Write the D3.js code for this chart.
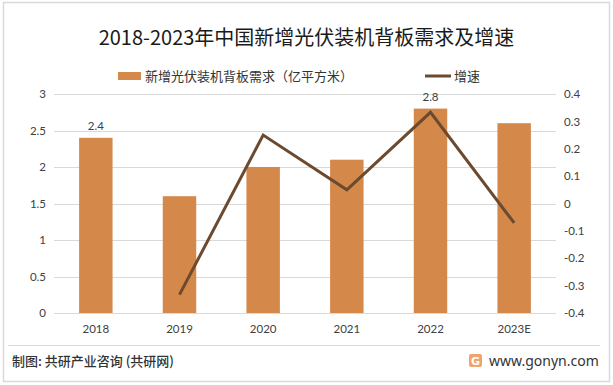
<!DOCTYPE html>
<html>
<head>
<meta charset="UTF-8">
<title>背板需求及增速</title>
<style>
  body { margin: 0; background: #fff; }
  svg { display: block; background: #fff; }
  .tick text { font-family: Lato, "Noto Sans", sans-serif; font-size: 11.5px; fill: #404040; }
</style>
</head>
<body>
<script src="https://d3js.org/d3.v7.min.js"></script>
<script>
// data
var years = ["2018", "2019", "2020", "2021", "2022", "2023E"];
var demand = [2.4, 1.6, 2.0, 2.1, 2.8, 2.6];        // 亿平方米
var growth = [null, -0.333, 0.25, 0.05, 0.333, -0.071];
var leftTicks = [0, 0.5, 1, 1.5, 2, 2.5, 3];
var rightTicks = [-0.4, -0.3, -0.2, -0.1, 0, 0.1, 0.2, 0.3, 0.4];
var labelled = ["2018", "2022"];   // bars that carry a value label

var W = 613, H = 385;
var plot = {left: 54, right: 556, top: 94, bottom: 313};

var svg = d3.select("body").append("svg")
    .attr("width", W).attr("height", H);

// outer frame
svg.append("rect")
    .attr("x", 3.5).attr("y", 2.5)
    .attr("width", 606).attr("height", 379)
    .attr("fill", "none").attr("stroke", "#d9d9d9").attr("stroke-width", 1.5);

// title
svg.append("text")
    .attr("x", 306.5).attr("y", 45)
    .attr("text-anchor", "middle")
    .attr("font-family", "'Noto Sans CJK SC', sans-serif")
    .attr("font-size", 20)
    .attr("fill", "#1a1a1a")
    .text("2018-2023年中国新增光伏装机背板需求及增速");

// legend
var lg = svg.append("g").attr("font-family", "'Noto Sans CJK SC', sans-serif")
    .attr("font-size", 13).attr("fill", "#333");
lg.append("rect").attr("x", 118).attr("y", 72).attr("width", 23).attr("height", 8).attr("fill", "#d4894b");
lg.append("text").attr("x", 145).attr("y", 81).text("新增光伏装机背板需求（亿平方米）");
lg.append("line").attr("x1", 425).attr("x2", 451).attr("y1", 76).attr("y2", 76)
    .attr("stroke", "#6b4a2f").attr("stroke-width", 3);
lg.append("text").attr("x", 454).attr("y", 81).text("增速");

// scales
var x = d3.scaleBand().domain(years).range([plot.left, plot.right]).paddingInner(0.6).paddingOuter(0.3);
var y = d3.scaleLinear().domain([0, 3]).range([plot.bottom, plot.top]);
var y2 = d3.scaleLinear().domain([-0.4, 0.4]).range([plot.bottom, plot.top]);

// gridlines
svg.append("g").selectAll("line").data(leftTicks).join("line")
    .attr("x1", plot.left).attr("x2", plot.right)
    .attr("y1", function(d) { return Math.round(y(d)) + 0.5; })
    .attr("y2", function(d) { return Math.round(y(d)) + 0.5; })
    .attr("stroke", "#d9d9d9").attr("stroke-width", 1);

// axes
var yAxis = d3.axisLeft(y).tickValues(leftTicks).tickSize(0).tickPadding(8)
    .tickFormat(function(d) { return String(d); });
svg.append("g").attr("transform", "translate(" + plot.left + ",0)").call(yAxis)
    .call(function(g) { g.select(".domain").remove(); });

var y2Axis = d3.axisRight(y2).tickValues(rightTicks).tickSize(0).tickPadding(8)
    .tickFormat(function(d) { return String(+d.toFixed(1)); });
svg.append("g").attr("transform", "translate(" + plot.right + ",0)").call(y2Axis)
    .call(function(g) { g.select(".domain").remove(); });

var xAxis = d3.axisBottom(x).tickSize(0).tickPadding(12);
svg.append("g").attr("transform", "translate(0," + plot.bottom + ")").call(xAxis)
    .call(function(g) { g.select(".domain").remove(); });

// bars
svg.append("g").selectAll("rect").data(years).join("rect")
    .attr("x", function(d) { return x(d); })
    .attr("width", x.bandwidth())
    .attr("y", function(d, i) { return y(demand[i]); })
    .attr("height", function(d, i) { return plot.bottom - y(demand[i]); })
    .attr("fill", "#d4894b");

// value labels
svg.append("g").selectAll("text").data(years.filter(function(d) { return labelled.indexOf(d) >= 0; })).join("text")
    .attr("x", function(d) { return x(d) + x.bandwidth() / 2; })
    .attr("y", function(d) { return y(demand[years.indexOf(d)]) - 8; })
    .attr("text-anchor", "middle")
    .attr("font-family", "Lato, sans-serif").attr("font-size", 11.5).attr("fill", "#404040")
    .text(function(d) { return demand[years.indexOf(d)]; });

// growth line
var pts = years.map(function(d, i) { return {year: d, v: growth[i]}; })
    .filter(function(p) { return p.v !== null; });
var line = d3.line()
    .x(function(p) { return x(p.year) + x.bandwidth() / 2; })
    .y(function(p) { return y2(p.v); });
svg.append("path").attr("d", line(pts))
    .attr("fill", "none").attr("stroke", "#6b4a2f").attr("stroke-width", 3)
    .attr("stroke-linejoin", "miter");

// footer
svg.append("line").attr("x1", 8).attr("x2", 600).attr("y1", 345.5).attr("y2", 345.5)
    .attr("stroke", "#d9d9d9").attr("stroke-width", 1);
svg.append("text").attr("x", 12).attr("y", 366)
    .attr("font-family", "'Noto Sans CJK SC', sans-serif").attr("font-size", 13)
    .attr("font-weight", 500).attr("fill", "#333")
    .text("制图: 共研产业咨询 (共研网)");

// logo
var logo = svg.append("g").attr("transform", "translate(469,354)");
logo.append("rect").attr("width", 13).attr("height", 13).attr("rx", 2).attr("fill", "#f0a36a");
logo.append("text").attr("x", 6.5).attr("y", 11).attr("text-anchor", "middle")
    .attr("font-family", "DejaVu Sans, sans-serif").attr("font-weight", "bold")
    .attr("font-size", 11).attr("fill", "#fff").text("G");
svg.append("text").attr("x", 489).attr("y", 366)
    .attr("font-family", "'Noto Sans', sans-serif").attr("font-size", 14).attr("fill", "#333")
    .text("www.gonyn.com");
</script>
</body>
</html>
